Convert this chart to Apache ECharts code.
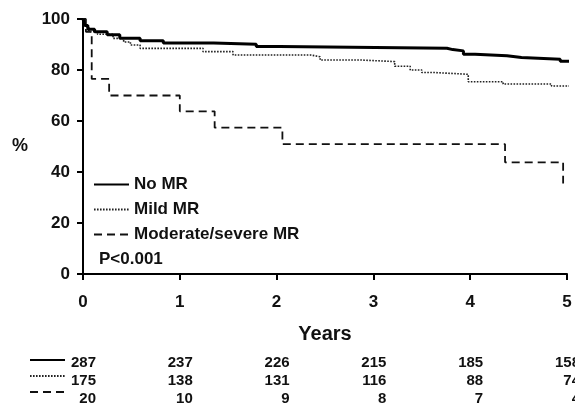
<!DOCTYPE html>
<html>
<head>
<meta charset="utf-8">
<script src="https://cdn.jsdelivr.net/npm/echarts@6/dist/echarts.min.js"></script>
<style>
  html, body { margin: 0; padding: 0; background: #fff; }
  #chart { width: 575px; height: 405px; }
</style>
</head>
<body>
<div id="chart"></div>
<script>
// survival curves (years, %)
const noMrYears   = [0, 0.02, 0.05, 0.12, 0.25, 0.38, 0.59, 0.83, 1.35, 1.79, 2.03, 3.76, 3.82, 3.93, 4.05, 4.38, 4.53, 4.93, 5.03];
const noMrPct     = [100, 97.5, 96, 95, 93.8, 92.5, 91.5, 90.6, 90.1, 89.2, 88.5, 88.0, 87.5, 86.2, 85.6, 84.9, 84.2, 83.4, 83.4];
const mildYears   = [0, 0.02, 0.06, 0.15, 0.31, 0.42, 0.49, 0.59, 1.24, 1.55, 2.35, 2.45, 2.88, 3.22, 3.38, 3.5, 3.64, 3.98, 4.34, 4.84, 5.03];
const mildPct     = [100, 97, 95, 94, 92.4, 91, 89.8, 88.5, 87.2, 85.9, 85.2, 83.9, 83.3, 81.5, 80, 79, 78.3, 75.4, 74.5, 73.7, 73.7];
const modYears    = [0, 0.03, 0.09, 0.27, 1.0, 1.36, 2.06, 4.36, 4.96];
const modPct      = [100, 95, 76.5, 70, 63.8, 57.4, 50.9, 43.8, 35.5];

const seriesNames = ['No MR', 'Mild MR', 'Moderate/severe MR'];
const yearTicks   = [0, 1, 2, 3, 4, 5];
const pctTicks    = [0, 20, 40, 60, 80, 100];

// numbers at risk
const atRiskNoMr = [287, 237, 226, 215, 185, 158];
const atRiskMild = [175, 138, 131, 116, 88, 74];
const atRiskMod  = [20, 10, 9, 8, 7, 4];

const FONT = 'Arial, "Liberation Sans", Helvetica, sans-serif';

function zip(xs, ys) {
  return xs.map((x, i) => [x, ys[i]]);
}

const chart = echarts.init(document.getElementById('chart'), null, { renderer: 'canvas' });

function riskAxis(values, offset) {
  return {
    type: 'value',
    gridIndex: 0,
    position: 'bottom',
    offset: offset,
    min: yearTicks[0],
    max: yearTicks[yearTicks.length - 1],
    interval: 1,
    axisLine: { show: false },
    axisTick: { show: false },
    splitLine: { show: false },
    axisLabel: {
      margin: 8,
      showMinLabel: true,
      showMaxLabel: true,
      formatter: v => '{a|' + values[Math.round(v)] + '}',
      rich: {
        a: { width: 26, align: 'right', fontFamily: FONT, fontWeight: 'bold', fontSize: 15, color: '#111' }
      }
    }
  };
}

const styles = [
  { color: '#000', width: 3, type: 'solid' },
  { color: '#222', width: 1.6, type: [1.6, 1.4] },
  { color: '#111', width: 1.8, type: [8, 5] }
];

// legend shows only the line sample, no marker
const hiddenMarker = { color: 'transparent', borderColor: 'transparent', borderWidth: 0 };

const option = {
  animation: false,
  backgroundColor: '#fff',
  grid: { left: 83, right: 8, top: 19, bottom: 131, containLabel: false, outerBoundsMode: 'none' },
  title: {
    text: 'P<0.001',
    left: 99,
    top: 251,
    padding: 0,
    textStyle: { fontFamily: FONT, fontWeight: 'bold', fontSize: 17, color: '#111' }
  },
  legend: [
    {
      data: seriesNames,
      orient: 'vertical',
      left: 93,
      top: 176,
      padding: 0,
      itemWidth: 35,
      itemHeight: 10,
      itemGap: 8,
      selectedMode: false,
      itemStyle: hiddenMarker,
      textStyle: { fontFamily: FONT, fontWeight: 'bold', fontSize: 17, lineHeight: 17, color: '#111' }
    },
    {
      data: seriesNames,
      orient: 'vertical',
      left: 29,
      top: 356,
      padding: 0,
      itemWidth: 35,
      itemHeight: 10,
      itemGap: 8,
      selectedMode: false,
      itemStyle: hiddenMarker,
      formatter: () => '',
      textStyle: { fontSize: 10, lineHeight: 10 }
    }
  ],
  xAxis: [
    {
      type: 'value',
      min: yearTicks[0],
      max: yearTicks[yearTicks.length - 1],
      interval: 1,
      name: 'Years',
      nameLocation: 'middle',
      nameGap: 50,
      nameTextStyle: { fontFamily: FONT, fontWeight: 'bold', fontSize: 20, color: '#111' },
      axisLine: { onZero: false, lineStyle: { color: '#000', width: 2 } },
      axisTick: { show: true, length: 6, lineStyle: { color: '#000', width: 2 } },
      splitLine: { show: false },
      axisLabel: { margin: 20, fontFamily: FONT, fontWeight: 'bold', fontSize: 17, color: '#111' }
    },
    riskAxis(atRiskNoMr, 73.5),
    riskAxis(atRiskMild, 91.5),
    riskAxis(atRiskMod, 109.5)
  ],
  yAxis: {
    type: 'value',
    min: pctTicks[0],
    max: pctTicks[pctTicks.length - 1],
    interval: 20,
    name: '%',
    nameLocation: 'middle',
    nameRotate: 0,
    nameGap: 55,
    nameTextStyle: { fontFamily: FONT, fontWeight: 'bold', fontSize: 18, color: '#111', padding: [0, 0, 6, 0] },
    axisLine: { show: true, lineStyle: { color: '#000', width: 2 } },
    axisTick: { show: true, length: 6, lineStyle: { color: '#000', width: 2 } },
    splitLine: { show: false },
    axisLabel: { margin: 13, fontFamily: FONT, fontWeight: 'bold', fontSize: 17, color: '#111' }
  },
  series: [
    { name: seriesNames[0], data: zip(noMrYears, noMrPct) },
    { name: seriesNames[1], data: zip(mildYears, mildPct) },
    { name: seriesNames[2], data: zip(modYears, modPct) }
  ].map((s, i) => ({
    name: s.name,
    type: 'line',
    step: 'end',
    xAxisIndex: 0,
    symbol: 'none',
    data: s.data,
    itemStyle: { color: styles[i].color },
    lineStyle: { color: styles[i].color, width: styles[i].width, type: styles[i].type },
    z: 3 - i
  }))
};

chart.setOption(option);
</script>
</body>
</html>
